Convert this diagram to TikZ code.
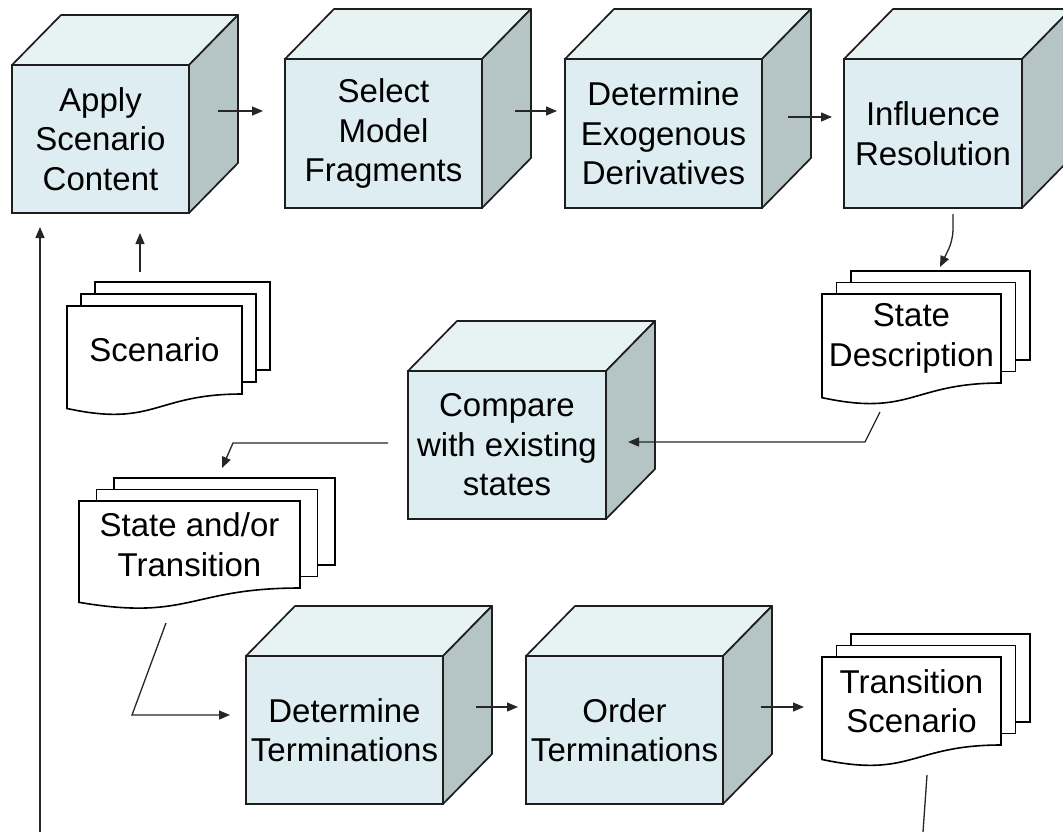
\documentclass[tikz,border=0pt]{standalone}
\usepackage{fontspec}
\setmainfont{Liberation Sans}
\usetikzlibrary{arrows.meta,calc}
\definecolor{cfront}{RGB}{221,237,241}
\definecolor{ctop}{RGB}{231,242,243}
\definecolor{cside}{RGB}{181,196,196}
\definecolor{cedge}{RGB}{30,30,30}
\tikzset{
 cubefront/.style={draw=cedge, fill=cfront, line width=1.7pt, inner sep=0pt, outer sep=0pt, anchor=north west, align=center, font=\fontsize{33}{39.5}\selectfont},
 cubeface/.style={draw=cedge, line width=1.7pt, line join=round},
 docpage/.style={draw=black, fill=white, line width=1.6pt},
 doctext/.style={inner sep=0pt, align=center, font=\fontsize{33}{39.5}\selectfont},
 conn/.style={draw=black!85, line width=1.3pt, -{Triangle[length=11pt,width=9pt]}},
 plainconn/.style={draw=black!85, line width=1.3pt},
}
\newcommand\mycube[6]{%
 \node[cubefront, minimum width=#4pt, minimum height=#5pt] (#1) at (#2,#3) {#6};
 \filldraw[cubeface, fill=ctop] (#1.north west) -- ++(49pt,50pt) -- ++(#4pt,0pt) -- (#1.north east) -- cycle;
 \filldraw[cubeface, fill=cside] (#1.north east) -- ++(49pt,50pt) -- ++(0pt,-#5pt) -- (#1.south east) -- cycle;
}
\newcommand\mydoc[8]{%
 \filldraw[docpage] (#2+2*#6, #3-2*#7) rectangle ++(#4, #5);
 \filldraw[docpage] (#2+#6, #3-#7) rectangle ++(#4, #5);
 \filldraw[docpage] (#2,#3) -- (#2+#4,#3) -- (#2+#4,#3+#5) .. controls (#2+#4/2,#3+#5) and (#2+#4/2,#3+1.381*#5) .. (#2,#3+1.1645*#5) -- cycle;
 \node[doctext] (#1) at (#2+#4/2, #3+#5/2) {#8};
}
\begin{document}
\begin{tikzpicture}[x=1pt,y=-1pt]
\clip (0,0) rectangle (1063,831);
\fill[white] (0,0) rectangle (1063,831);
% cubes
\mycube{apply}{12}{65}{177}{148}{Apply\\Scenario\\Content}
\mycube{select}{285}{59}{197}{149}{Select\\Model\\Fragments}
\mycube{exo}{565}{59}{197}{149}{Determine\\Exogenous\\Derivatives}
\mycube{infl}{844}{59}{178}{149}{Influence\\Resolution}
\mycube{comp}{408}{371}{198}{148}{Compare\\with existing\\states}
\mycube{dterm}{246}{656}{197}{148}{Determine\\Terminations}
\mycube{oterm}{526}{656}{197}{148}{Order\\Terminations}
% documents
\mydoc{scen}{67}{306}{175}{88}{14}{12}{Scenario}
\mydoc{sdesc}{822}{294}{179}{89}{14.5}{11.5}{State\\Description}
\mydoc{stt}{79}{501}{221}{87}{17.5}{11.5}{State and/or\\Transition}
\mydoc{tscen}{822}{657}{179}{88}{14.5}{11.5}{Transition\\Scenario}
% connector points
\coordinate (a1) at (218,111); \coordinate (a1e) at (263,111);
\coordinate (a2) at (515,111); \coordinate (a2e) at (557,111);
\coordinate (a3) at (788,117); \coordinate (a3e) at (832,117);
\coordinate (a4) at (953,214); \coordinate (a4m) at (953,240); \coordinate (a4e) at (940,267);
\coordinate (a5) at (880,412); \coordinate (a5m) at (865,442); \coordinate (a5e) at (628,442);
\coordinate (a6) at (388,443); \coordinate (a6m) at (233,443); \coordinate (a6e) at (222,468);
\coordinate (a7) at (166,623); \coordinate (a7m) at (132,715); \coordinate (a7e) at (230,715);
\coordinate (a8) at (476,707); \coordinate (a8e) at (518,707);
\coordinate (a9) at (761,707); \coordinate (a9e) at (804,707);
\coordinate (a10) at (927,775); \coordinate (a10e) at (923,832);
\coordinate (a11) at (40,832); \coordinate (a11e) at (40,227);
\coordinate (a12) at (140,272); \coordinate (a12e) at (140,233);
% connectors
\draw[conn] (a1) -- (a1e);
\draw[conn] (a2) -- (a2e);
\draw[conn] (a3) -- (a3e);
\draw[conn, rounded corners=10pt] (a4) -- (a4m) -- (a4e);
\draw[conn] (a5) -- (a5m) -- (a5e);
\draw[conn] (a6) -- (a6m) -- (a6e);
\draw[conn] (a7) -- (a7m) -- (a7e);
\draw[conn] (a8) -- (a8e);
\draw[conn] (a9) -- (a9e);
\draw[plainconn] (a10) -- (a10e);
\draw[conn] (a11) -- (a11e);
\draw[conn] (a12) -- (a12e);
\end{tikzpicture}
\end{document}
